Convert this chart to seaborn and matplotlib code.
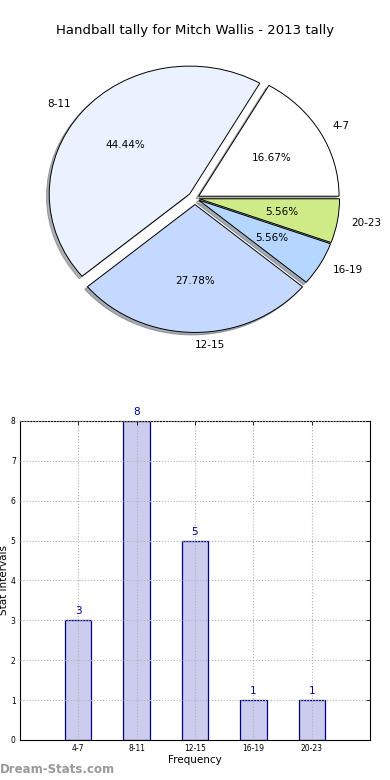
import matplotlib
matplotlib.use("Agg")
import matplotlib.pyplot as plt
import seaborn as sns
import pandas as pd

# data
intervals = ["4-7", "8-11", "12-15", "16-19", "20-23"]
counts = [3, 8, 5, 1, 1]
pie_colors = ["#ffffff", "#ebf2ff", "#c5d9ff", "#b4d6ff", "#cfeb88"]
explode = [0.03, 0.05, 0.05, 0.03, 0.03]

sns.set_style("white")
plt.rcParams["font.family"] = ["DejaVu Sans"]
plt.rcParams["text.color"] = "black"
plt.rcParams["axes.labelcolor"] = "black"
plt.rcParams["xtick.color"] = "black"
plt.rcParams["ytick.color"] = "black"

fig = plt.figure(figsize=(3.9, 7.8), dpi=100)

# pie
ax1 = fig.add_axes([0.05, 0.541, 0.9, 0.41])
ax1.pie(counts, labels=intervals, colors=pie_colors, explode=explode,
        autopct="%.2f%%", shadow={"ox": -0.014, "oy": -0.014, "shade": 0.6},
        startangle=0,
        wedgeprops={"edgecolor": "black", "linewidth": 0.7},
        textprops={"fontsize": 7.5})
ax1.set_aspect("auto")
ax1.set_xlim(-1.25, 1.25)
ax1.set_ylim(-1.25, 1.25)
ax1.set_title("Handball tally for Mitch Wallis - 2013 tally", fontsize=9.5, pad=3)

# bars
df = pd.DataFrame({"interval": intervals, "count": counts})
ax2 = fig.add_axes([0.051, 0.0513, 0.898, 0.409])
sns.barplot(data=df, x="interval", y="count", ax=ax2, width=0.45,
            color="#ccccee", edgecolor="#000080", linewidth=0.9, saturation=1)
ax2.set_xlim(-1, 5)
ax2.set_ylim(0, 8)
ax2.set_axisbelow(False)
ax2.grid(True, linestyle=":", color="#b0b0b0", linewidth=0.8)
for i, c in enumerate(counts):
    ax2.text(i, c + 0.1, str(c), ha="center", va="bottom", fontsize=7.5, color="#000099")
ax2.tick_params(direction="in", top=True, right=True, labelsize=5.5, length=3, width=0.6, pad=3)
for s in ax2.spines.values():
    s.set_visible(True)
    s.set_color("black")
    s.set_linewidth(0.8)
ax2.set_xlabel("Frequency", fontsize=7.5, labelpad=1)
ax2.set_ylabel("Stat Intervals", fontsize=7.5, labelpad=1)

fig.text(0.0, 0.005, "Dream-Stats.com", fontsize=8.5, color="#999999",
         ha="left", va="bottom", fontweight="semibold")

fig.savefig("out.png", dpi=100)
